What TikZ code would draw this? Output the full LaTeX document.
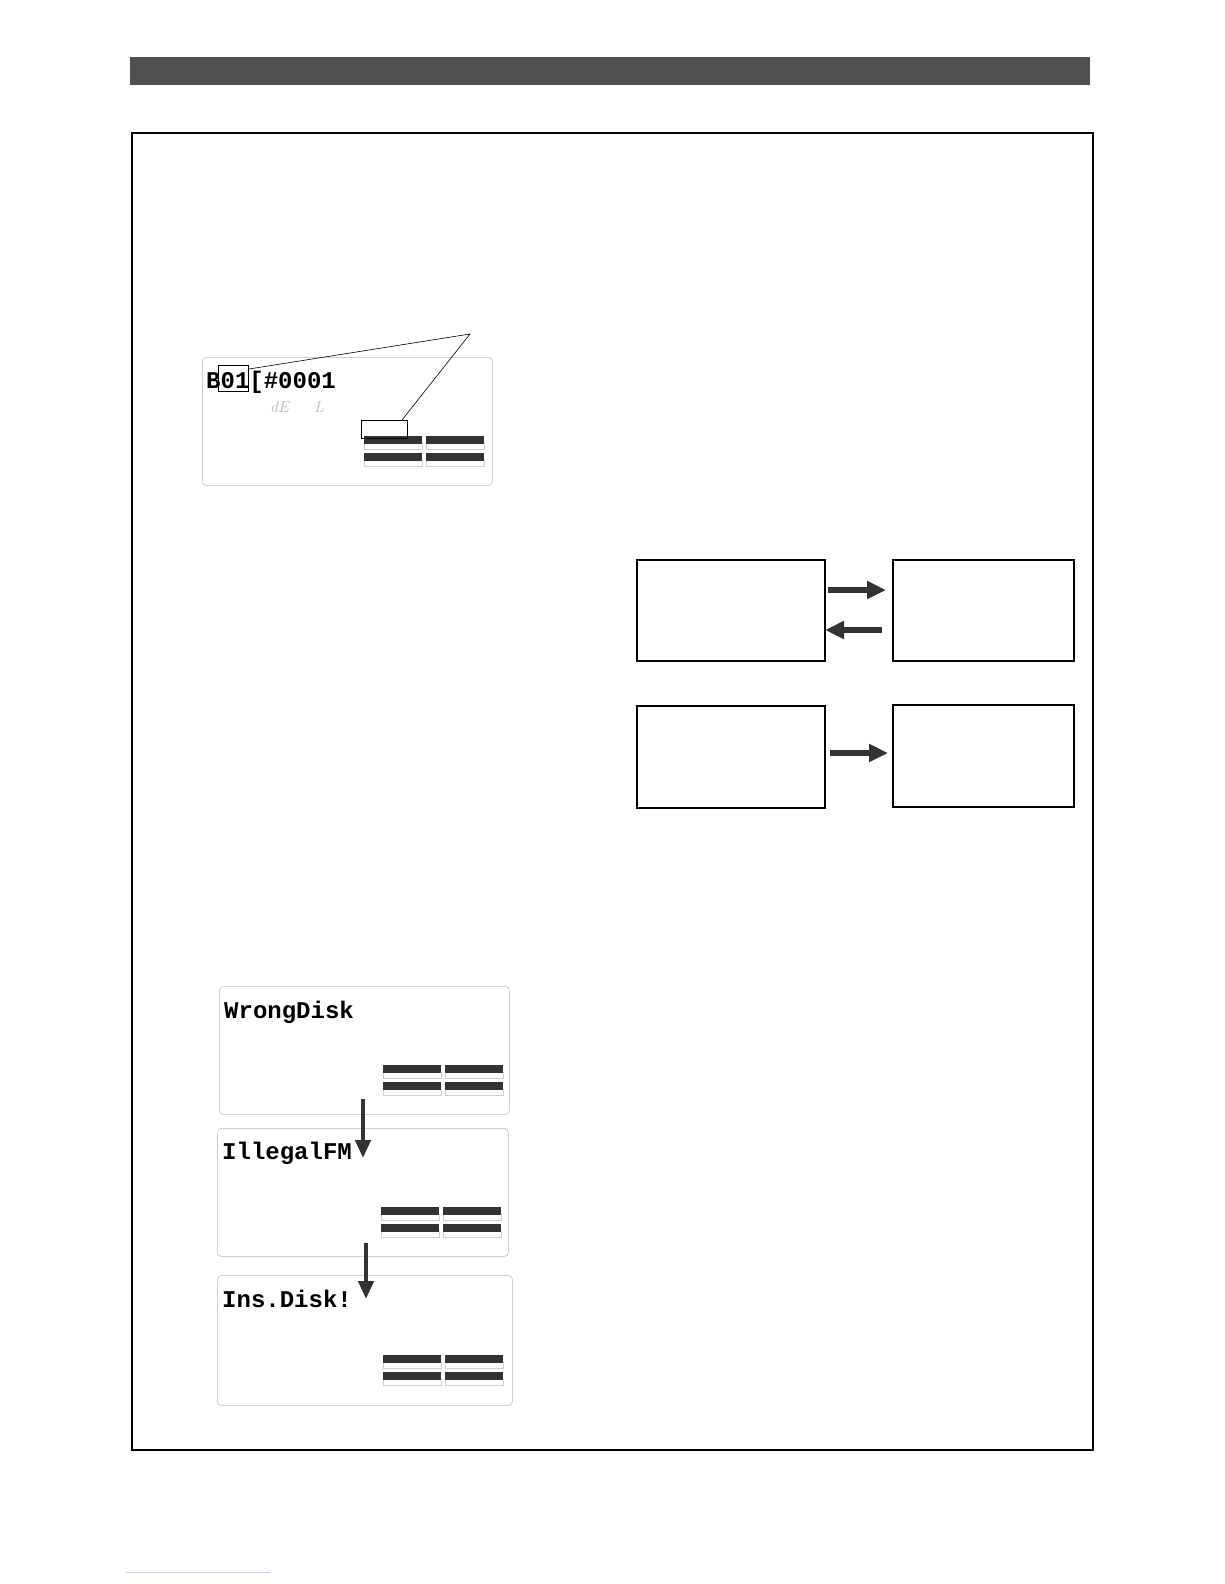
\documentclass[tikz,border=0pt]{standalone}
\usepackage{fontspec}
\newfontfamily\lcdfont{Liberation Mono}
\usetikzlibrary{arrows.meta,calc}
\definecolor{bardark}{HTML}{505050}
\definecolor{arrowc}{HTML}{333333}
\definecolor{meterdark}{HTML}{333333}
\definecolor{lcdedge}{HTML}{CFCFCF}
\definecolor{ghost}{HTML}{BBBBBB}
\definecolor{linkblue}{HTML}{C8D4F0}
\tikzset{
  lcdpanel/.style={draw=lcdedge, line width=0.8pt, rounded corners=4pt, inner sep=0pt, anchor=north west},
  lcdtext/.style={font=\lcdfont\bfseries\fontsize{24}{24}\selectfont, anchor=base west, inner sep=0pt},
  ghosttext/.style={font=\itshape\fontsize{16}{16}\selectfont, text=ghost, anchor=base west, inner sep=0pt},
  flowbox/.style={draw=black, line width=1.5pt, inner sep=0pt, anchor=north west},
  fatarrow/.style={draw=arrowc, line width=5.8pt, -{Triangle[length=19pt,width=17pt]}},
  downarrow/.style={draw=arrowc, line width=4.5pt, -{Triangle[length=18pt,width=15pt]}},
  callout/.style={draw=black, line width=1pt, inner sep=0pt, anchor=north west},
  thinline/.style={draw=black, line width=0.6pt},
}
% meter: #1=x0, #2=y0 (top of first dark bar), column width 58, gap 4
\newcommand{\lcdmeter}[2]{%
  \foreach \cx in {0,62}{%
    \foreach \ry in {0,17}{%
      \draw[lcdedge, line width=0.6pt] ({#1+\cx},{#2+\ry+7}) rectangle ({#1+\cx+58},{#2+\ry+13});
      \fill[meterdark] ({#1+\cx},{#2+\ry}) rectangle ({#1+\cx+58},{#2+\ry+7.5});
    }%
  }%
}
\begin{document}
\begin{tikzpicture}[x=1pt,y=-1pt]
\useasboundingbox (0,0) rectangle (1224,1584);
\fill[white] (0,0) rectangle (1224,1584);

% top bar
\fill[bardark] (130,57) rectangle (1090,85);
% frame
\draw[line width=1.3pt] (132,133) rectangle (1093,1450);

% ---- LCD 1 ----
\node[lcdpanel, minimum width=290pt, minimum height=128pt] (lcdA) at (202,357) {};
\node[lcdtext] (txtA) at (206,388) {B01[\#0001};
\node[ghosttext] (ghA1) at (270,412) {dE};
\node[ghosttext] (ghA2) at (314,412) {L};
\lcdmeter{364}{436}
\node[callout, minimum width=30pt, minimum height=26pt] (boxA) at (218,365) {};
\node[callout, minimum width=46pt, minimum height=18pt] (boxB) at (361,420) {};
\coordinate (apex) at (470,334);
\coordinate (cA) at ($(boxA.north east)+(0,4)$);
\coordinate (cB) at ($(boxB.north east)+(-6,0)$);
\draw[thinline] (cA) -- (apex) -- (cB);

% ---- right boxes ----
\node[flowbox, minimum width=188pt, minimum height=101pt] (bA) at (636,559) {};
\node[flowbox, minimum width=181pt, minimum height=101pt] (bB) at (892,559) {};
\node[flowbox, minimum width=188pt, minimum height=102pt] (bC) at (636,705) {};
\node[flowbox, minimum width=181pt, minimum height=102pt] (bD) at (892,704) {};
\coordinate (a1s) at (828,590);
\coordinate (a1e) at (886,590);
\coordinate (a2s) at (882,630);
\coordinate (a2e) at (825,630);
\coordinate (a3s) at (830,753);
\coordinate (a3e) at (888,753);
\draw[fatarrow] (a1s) -- (a1e);
\draw[fatarrow] (a2s) -- (a2e);
\draw[fatarrow] (a3s) -- (a3e);

% ---- LCD 2 ----
\node[lcdpanel, minimum width=290pt, minimum height=128pt] (lcdB) at (219,986) {};
\node[lcdtext] (txtB) at (224,1018) {WrongDisk};
\lcdmeter{383}{1065}

% ---- LCD 3 ----
\node[lcdpanel, minimum width=291pt, minimum height=128pt] (lcdC) at (217,1128) {};
\node[lcdtext] (txtC) at (222,1159) {IllegalFM};
\lcdmeter{381}{1207}

% ---- LCD 4 ----
\node[lcdpanel, minimum width=295pt, minimum height=130pt] (lcdD) at (217,1275) {};
\node[lcdtext] (txtD) at (222,1307) {Ins.Disk!};
\lcdmeter{383}{1355}

% down arrows
\coordinate (d1s) at (363,1099);
\coordinate (d1e) at (363,1158);
\coordinate (d2s) at (366,1243);
\coordinate (d2e) at (366,1299);
\draw[downarrow] (d1s) -- (d1e);
\draw[downarrow] (d2s) -- (d2e);

% faint link line
\draw[linkblue, line width=1pt] (126,1572) -- (270,1572);
\end{tikzpicture}
\end{document}
